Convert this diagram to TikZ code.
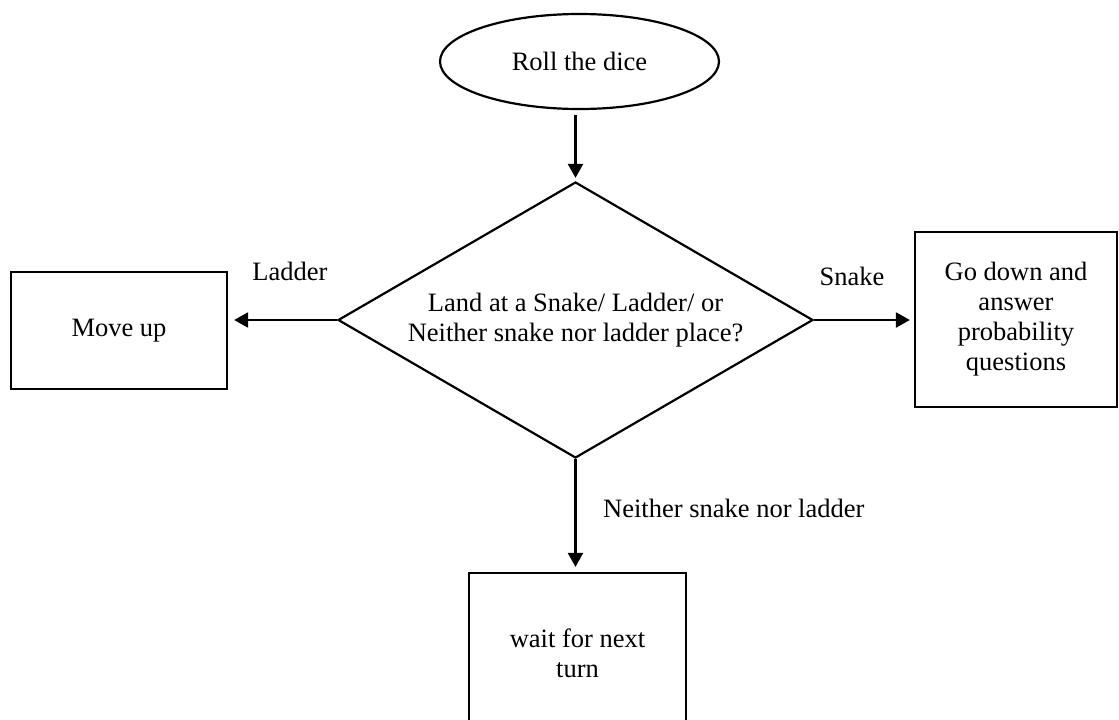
\documentclass[tikz,border=0pt]{standalone}
\usepackage{fontspec}
\setmainfont{Liberation Serif}
\usetikzlibrary{shapes.geometric,arrows.meta}
\begin{document}
\begin{tikzpicture}[x=1pt,y=-1pt,
  every node/.style={font=\fontsize{26.5}{30}\selectfont},
  shape outline/.style={draw, line width=2.2pt},
  flow/.style={line width=2.2pt, -{Triangle[length=14pt,width=15pt]}},
  terminal/.style={shape outline, ellipse, minimum width=279pt, minimum height=95pt, inner sep=0pt},
  decision/.style={shape outline, diamond, aspect=1.72, minimum width=475pt, minimum height=276pt, inner sep=0pt, align=center},
  stepbox/.style={shape outline, rectangle, inner sep=0pt, align=center},
  lbl/.style={inner sep=0pt}]
\useasboundingbox (0,0) rectangle (1119,720);
\clip (0,0) rectangle (1119,720);

% start
\node[terminal] (roll) at (579.5,61.5) {Roll the dice};

% decision
\node[decision] (land) at (575.5,320) {Land at a Snake/ Ladder/ or\\Neither snake nor ladder place?};

% outcomes
\node[stepbox, minimum width=216pt, minimum height=117pt] (up) at (119,330.5) {Move up};
\node[stepbox, minimum width=202pt, minimum height=175pt] (down) at (1016,319.5)
  {Go down and\\answer\\probability\\questions};
\node[stepbox, minimum width=217pt, minimum height=160pt] (wait) at (577.5,653)
  {wait for next\\turn};

% connectors
\draw[flow, shorten <=5pt, shorten >=3pt] (land.north |- roll.south) -- (land.north);
\draw[flow, shorten >=6pt] (land.west) -- (land.west -| up.east);
\draw[flow, shorten >=4pt] (land.east) -- (land.east -| down.west);
\draw[flow, shorten >=5pt] (land.south) -- (land.south |- wait.north);

% branch labels
\node[lbl] (ladderlbl) at (290,271) {Ladder};
\node[lbl] (snakelbl) at (852,276) {Snake};
\node[lbl, anchor=base west] (neitherlbl) at (603,517) {Neither snake nor ladder};
\end{tikzpicture}
\end{document}
